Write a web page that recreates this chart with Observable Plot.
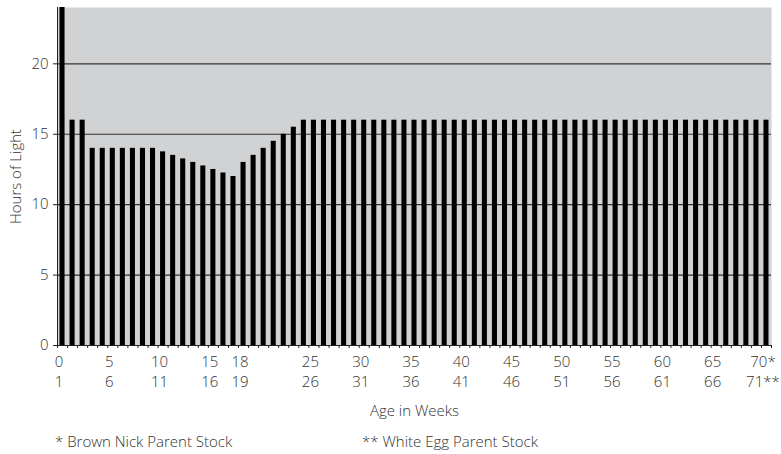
<!DOCTYPE html>
<html>
<head>
<meta charset="utf-8">
<script src="https://cdn.jsdelivr.net/npm/d3@7"></script>
<script src="https://cdn.jsdelivr.net/npm/@observablehq/plot@0.6"></script>
<style>
  body { margin: 0; background: #fff; font-family: "Open Sans", sans-serif; }
  #wrap { position: relative; width: 781px; height: 454px; overflow: hidden; }
  .note { position: absolute; top: 434px; font-size: 15px; font-weight: 300; color: #333; line-height: 1; white-space: nowrap; }
</style>
</head>
<body>
<div id="wrap">
  <div id="chart"></div>
  <div class="note" style="left:55px">* Brown Nick Parent Stock</div>
  <div class="note" style="left:362px">** White Egg Parent Stock</div>
</div>
<script>
// Age index (Brown Nick weeks), one bar per week
const weeks = d3.range(0, 71);
// Hours of light per week
const hours = [
  24, 16, 16, 14, 14, 14, 14, 14, 14, 14,
  13.75, 13.5, 13.25, 13, 12.75, 12.5, 12.25, 12, 13, 13.5,
  14, 14.5, 15, 15.5, 16, 16, 16, 16, 16, 16,
  16, 16, 16, 16, 16, 16, 16, 16, 16, 16,
  16, 16, 16, 16, 16, 16, 16, 16, 16, 16,
  16, 16, 16, 16, 16, 16, 16, 16, 16, 16,
  16, 16, 16, 16, 16, 16, 16, 16, 16, 16,
  16
];
// Labelled weeks and their two label rows
const labelWeeks = [0, 5, 10, 15, 18, 25, 30, 35, 40, 45, 50, 55, 60, 65, 70];
const labelsBrown = ["0", "5", "10", "15", "18", "25", "30", "35", "40", "45", "50", "55", "60", "65", "70*"];
const labelsWhite = ["1", "6", "11", "16", "19", "26", "31", "36", "41", "46", "51", "56", "61", "66", "71**"];
const yTicks = [0, 5, 10, 15, 20];
const gridValues = [5, 10, 15, 20];

const data = weeks.map((w, i) => ({week: w, hours: hours[i]}));
const row1 = new Map(labelWeeks.map((w, i) => [w, labelsBrown[i]]));
const row2 = new Map(labelWeeks.map((w, i) => [w, labelsWhite[i]]));
const boundaries = d3.range(0, weeks.length + 1);

const chart = Plot.plot({
  width: 781,
  height: 428,
  marginLeft: 57,
  marginRight: 10,
  marginTop: 7,
  marginBottom: 83,
  style: {fontFamily: "'Open Sans', sans-serif", fontSize: "15px", fontWeight: 300, color: "#333", background: "white"},
  x: {type: "linear", domain: [0, weeks.length]},
  y: {domain: [0, 24]},
  marks: [
    Plot.frame({fill: "#d1d2d4", stroke: null}),
    Plot.ruleY(gridValues, {stroke: "#333", strokeWidth: 1.1}),
    Plot.rectY(data, {x: "week", interval: 1, y: "hours", fill: "black", insetLeft: 2.5, insetRight: 2.5}),
    Plot.ruleY([0], {stroke: "#222"}),
    Plot.ruleX([0], {stroke: "#222"}),
    Plot.axisY(yTicks, {tickSize: 4, tickPadding: 5, stroke: "#222", label: "Hours of Light", labelAnchor: "center", labelArrow: "none", labelOffset: 47}),
    Plot.axisX(boundaries, {tickSize: 3, stroke: "#222", tickFormat: () => "", label: null}),
    Plot.axisX(labelWeeks, {tickSize: 0, tickPadding: 11, dx: 1.5, tickFormat: d => row1.get(d), label: "Age in Weeks", labelAnchor: "center", labelArrow: "none", labelOffset: 70}),
    Plot.axisX(labelWeeks, {tickSize: 0, tickPadding: 31, dx: 1.5, tickFormat: d => row2.get(d), label: null})
  ]
});
document.getElementById("chart").appendChild(chart);
</script>
</body>
</html>
